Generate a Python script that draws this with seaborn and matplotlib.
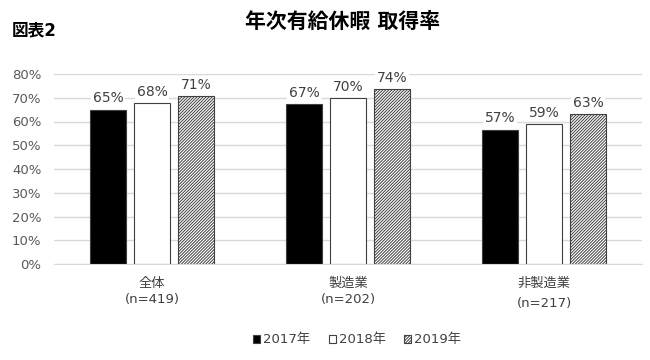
import pandas as pd
import matplotlib
matplotlib.use("Agg")
import matplotlib.pyplot as plt
import seaborn as sns
from matplotlib.patches import Patch

# data
groups = ["全体", "製造業", "非製造業"]
group_labels = ["全体\n(n=419)", "製造業\n(n=202)", "非製造業\n(n=217)"]
years = ["2017年", "2018年", "2019年"]
rate_2017 = [0.650, 0.674, 0.566]
rate_2018 = [0.677, 0.699, 0.589]
rate_2019 = [0.708, 0.736, 0.630]

rows = []
for yr, vals in zip(years, [rate_2017, rate_2018, rate_2019]):
    for g, v in zip(groups, vals):
        rows.append({"group": g, "year": yr, "rate": v})
df = pd.DataFrame(rows)

sns.set_style("white")
plt.rcParams["font.family"] = ["DejaVu Sans", "Noto Sans CJK JP"]
plt.rcParams["hatch.linewidth"] = 0.7
plt.rcParams["hatch.color"] = "#404040"

fig = plt.figure(figsize=(6.5, 3.6), dpi=100)
ax = fig.add_axes([54 / 650, 1 - 264 / 360, (642 - 54) / 650, (264 - 74) / 360])

sns.barplot(data=df, x="group", y="rate", hue="year", order=groups, hue_order=years,
            palette=["black", "white", "white"], width=0.673, gap=0.2,
            edgecolor="#404040", linewidth=0.8, errorbar=None, legend=False, ax=ax)

# hatch for 2019
for bar in ax.containers[2]:
    bar.set_hatch("///////////")

for cont in ax.containers:
    ax.bar_label(cont, labels=[f"{round(b.get_height() * 100):.0f}%" for b in cont],
                 padding=3, fontsize=10, color="#404040",
                 bbox=dict(facecolor="white", edgecolor="none", pad=1))

ax.set_ylim(0, 0.8)
ax.set_yticks([i / 10 for i in range(9)])
ax.set_yticklabels([f"{i * 10}%" for i in range(9)], color="#595959", fontsize=9.5)
ax.yaxis.grid(True, color="#d9d9d9", linewidth=1)
ax.set_axisbelow(True)
xl = ax.set_xticklabels(group_labels, fontsize=9.5, color="#404040")
for t in xl[:2]:
    t.set_linespacing(1.35)
xl[2].set_linespacing(1.7)
ax.tick_params(axis="x", length=0, pad=9)
ax.tick_params(axis="y", length=0, pad=9)
ax.set_xlabel("")
ax.set_ylabel("")
for s in ["top", "right", "left"]:
    ax.spines[s].set_visible(False)
ax.spines["bottom"].set_color("#d9d9d9")

fig.text(343 / 650, 1 - 22 / 360, "年次有給休暇 取得率", ha="center", va="center",
         fontsize=15, fontweight="bold", color="black")
fig.text(12 / 650, 1 - 30 / 360, "図表2", ha="left", va="center",
         fontsize=12, fontweight="bold", color="black")

handles = [Patch(facecolor="black", edgecolor="#404040", linewidth=0.8),
           Patch(facecolor="white", edgecolor="#404040", linewidth=0.8),
           Patch(facecolor="white", edgecolor="#404040", linewidth=0.8, hatch="///////////")]
fig.legend(handles, years, loc="center", bbox_to_anchor=(357 / 650, 1 - 340 / 360),
           ncol=3, frameon=False, fontsize=9.5, handlelength=0.55, handleheight=0.55,
           handletextpad=0.2, columnspacing=1.4, labelcolor="#404040")

fig.savefig("out.png", dpi=100)
